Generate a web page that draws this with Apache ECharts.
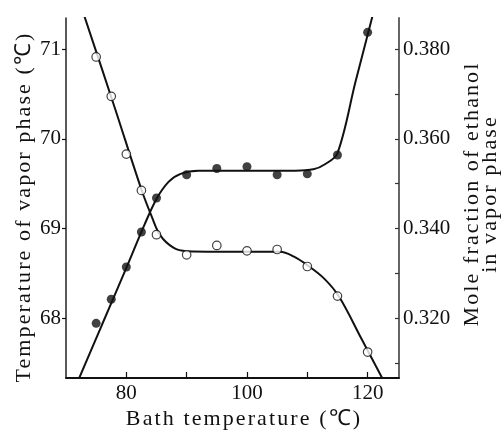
<!DOCTYPE html>
<html>
<head>
<meta charset="utf-8">
<script src="https://cdn.jsdelivr.net/npm/echarts@6/dist/echarts.min.js"></script>
<style>
  html, body { margin: 0; padding: 0; background: #ffffff; }
  #chart { width: 503px; height: 432px; }
</style>
</head>
<body>
<div id="chart"></div>
<script>
// Bath temperature (°C) of the measured points
var bathTemp = [75, 77.5, 80, 82.5, 85, 90, 95, 100, 105, 110, 115, 120];
// Filled circles: temperature of vapor phase (°C), left axis
var vaporTemp = [67.94, 68.21, 68.57, 68.96, 69.34, 69.60, 69.67, 69.69, 69.60, 69.61, 69.82, 71.19];
// Open circles: mole fraction of ethanol in vapor phase, right axis
var moleFrac = [0.3783, 0.3695, 0.3566, 0.3485, 0.3386, 0.3341, 0.3362, 0.3350, 0.3353, 0.3315, 0.3249, 0.3124];

// Drawn (hand-fitted) curves: [bath temperature, value]
var vaporTempCurve = [[72.0, 67.30], [76, 67.93], [80, 68.56], [83, 69.04], [85, 69.33], [87, 69.52], [89, 69.61], [92, 69.645], [100, 69.645], [108, 69.645], [111, 69.66], [113, 69.72], [115, 69.84], [118, 70.64], [121.3, 71.50]];
var moleFracCurve = [[72.9, 0.3880], [78, 0.3673], [82.5, 0.3487], [84.2, 0.3427], [85.6, 0.3385], [87.8, 0.3357], [90, 0.3349], [95, 0.3348], [105.5, 0.3348], [107.8, 0.3337], [110, 0.3318], [112.8, 0.3288], [115.3, 0.3247], [119, 0.3153], [122.8, 0.3056]];

// Axis ticks and labels
var xLabelValues = [80, 100, 120];
var xTickValues = [80, 90, 100, 110, 120];
var leftTickValues = [68, 69, 70, 71];
var rightLabelValues = [0.32, 0.34, 0.36, 0.38];
var rightTickValues = [0.31, 0.32, 0.33, 0.34, 0.35, 0.36, 0.37, 0.38];

var xTitle = 'Bath temperature (℃)';
var leftTitle = 'Temperature of vapor phase (℃)';
var rightTitle = 'Mole fraction of ethanol\nin vapor phase';

var FONT = 'Liberation Serif';
var TITLE_FONT = 'Liberation Serif, serif';
var INK = '#111111';

// Spread the letters of the axis titles only, as in the reference typesetting
(function () {
  var proto = CanvasRenderingContext2D.prototype;
  var origFill = proto.fillText;
  proto.fillText = function (t, x, y, m) {
    var has = 'letterSpacing' in this;
    if (has) { this.letterSpacing = /,\s*serif/.test(this.font) ? '2.1px' : '0px'; }
    if (m === undefined) { origFill.call(this, t, x, y); } else { origFill.call(this, t, x, y, m); }
    if (has) { this.letterSpacing = '0px'; }
  };
})();

function zip(xs, ys) { return xs.map(function (x, i) { return [x, ys[i]]; }); }

var chart = echarts.init(document.getElementById('chart'), null, { renderer: 'canvas' });
chart.setOption({
  animation: false,
  backgroundColor: '#ffffff',
  grid: { left: 66, right: 104, top: 18, bottom: 54 },
  xAxis: {
    type: 'value', min: 70, max: 125.2,
    axisLine: { lineStyle: { color: INK, width: 1.8 } },
    axisTick: { inside: true, length: 6, customValues: xTickValues, lineStyle: { color: INK, width: 1.2 } },
    axisLabel: { customValues: xLabelValues, margin: 5, color: INK, fontFamily: FONT, fontSize: 21 },
    splitLine: { show: false }
  },
  yAxis: [
    {
      type: 'value', min: 67.33, max: 71.35, position: 'left',
      axisLine: { show: true, lineStyle: { color: '#222', width: 1.5 } },
      axisTick: { show: true, inside: false, length: 4, customValues: leftTickValues, lineStyle: { color: INK, width: 1.2 } },
      axisLabel: { customValues: leftTickValues, margin: 5, color: INK, fontFamily: FONT, fontSize: 21 },
      splitLine: { show: false }
    },
    {
      type: 'value', min: 0.3066, max: 0.3870, position: 'right',
      axisLine: { show: true, lineStyle: { color: '#666', width: 2 } },
      axisTick: { show: true, inside: true, length: 4, customValues: rightTickValues, lineStyle: { color: '#333', width: 1.2 } },
      axisLabel: {
        customValues: rightLabelValues, margin: 4, color: INK, fontFamily: FONT, fontSize: 21,
        formatter: function (v) { return v.toFixed(3); }
      },
      splitLine: { show: false }
    }
  ],
  series: [
    {
      type: 'line', yAxisIndex: 0, data: vaporTempCurve, showSymbol: false, smooth: 0.35,
      lineStyle: { color: INK, width: 2 }, z: 2, silent: true
    },
    {
      type: 'line', yAxisIndex: 1, data: moleFracCurve, showSymbol: false, smooth: 0.35,
      lineStyle: { color: INK, width: 2 }, z: 2, silent: true
    },
    {
      type: 'scatter', yAxisIndex: 0, data: zip(bathTemp, vaporTemp), symbol: 'circle', symbolSize: 9,
      itemStyle: { color: INK, borderWidth: 0 }, z: 3
    },
    {
      type: 'scatter', yAxisIndex: 1, data: zip(bathTemp, moleFrac), symbol: 'circle', symbolSize: 8.5,
      itemStyle: { color: '#ffffff', borderColor: INK, borderWidth: 1.2 }, z: 3
    }
  ],
  graphic: [
    {
      type: 'text', x: 244, y: 419,
      style: { text: xTitle, fontFamily: TITLE_FONT, fontSize: 22, fill: INK, align: 'center', verticalAlign: 'middle' }
    },
    {
      type: 'text', x: 24, y: 207, rotation: Math.PI / 2,
      style: { text: leftTitle, fontFamily: TITLE_FONT, fontSize: 22, fill: INK, align: 'center', verticalAlign: 'middle' }
    },
    {
      type: 'text', x: 481, y: 194, rotation: Math.PI / 2,
      style: { text: rightTitle, fontFamily: TITLE_FONT, fontSize: 22, fill: INK, align: 'center', verticalAlign: 'middle', lineHeight: 18 }
    }
  ]
});
</script>
</body>
</html>
